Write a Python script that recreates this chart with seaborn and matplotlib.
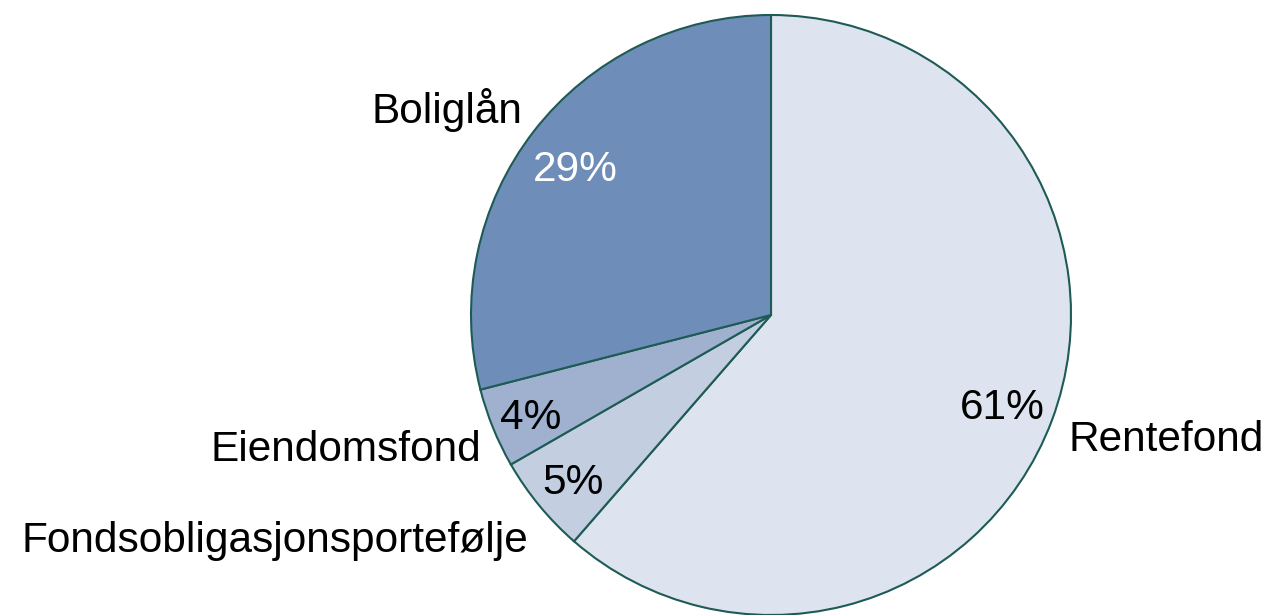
import matplotlib
matplotlib.use("Agg")
import matplotlib.pyplot as plt
import seaborn as sns

categories = ["Rentefond", "Fondsobligasjonsportefølje", "Eiendomsfond", "Boliglån"]
shares = [61.4, 5.3, 4.3, 29.0]
pct_labels = ["61%", "5%", "4%", "29%"]
colors = ["#DDE4EF", "#C3CEE0", "#9FB1CF", "#6E8DB8"]

sns.set_theme(style="white")
plt.rcParams['font.family'] = ['Liberation Sans', 'DejaVu Sans']

fig = plt.figure(figsize=(12.68, 6.15), dpi=100)
ax = fig.add_axes([(771 - 300) / 1268, 0, 600 / 1268, 600 / 615])
wedges, _ = ax.pie(shares, colors=colors, startangle=90, counterclock=False,
                   radius=1.0,
                   wedgeprops=dict(edgecolor="#1E5B55", linewidth=1.5))
ax.set_xlim(-1, 1)
ax.set_ylim(-1, 1)
ax.set_aspect("equal")
ax.axis("off")

fs = 30.5
dy = -0.009
# category labels
name_pos = {
    "Rentefond": (0.99, -0.407, "left"),
    "Fondsobligasjonsportefølje": (-0.81, -0.743, "right"),
    "Eiendomsfond": (-0.967, -0.44, "right"),
    "Boliglån": (-0.83, 0.693, "right"),
}
pct_pos = {
    "Rentefond": (0.77, -0.30, "#000000"),
    "Fondsobligasjonsportefølje": (-0.66, -0.55, "#000000"),
    "Eiendomsfond": (-0.80, -0.333, "#000000"),
    "Boliglån": (-0.653, 0.493, "#FFFFFF"),
}
for cat, pl in zip(categories, pct_labels):
    x, y, ha = name_pos[cat]
    ax.text(x, y + dy, cat, ha=ha, va="center", fontsize=fs, color="black", clip_on=False)
    px, py, c = pct_pos[cat]
    ax.text(px, py + dy, pl, ha="center", va="center", fontsize=fs, color=c, clip_on=False)

fig.savefig("out.png", dpi=100, facecolor="white")
